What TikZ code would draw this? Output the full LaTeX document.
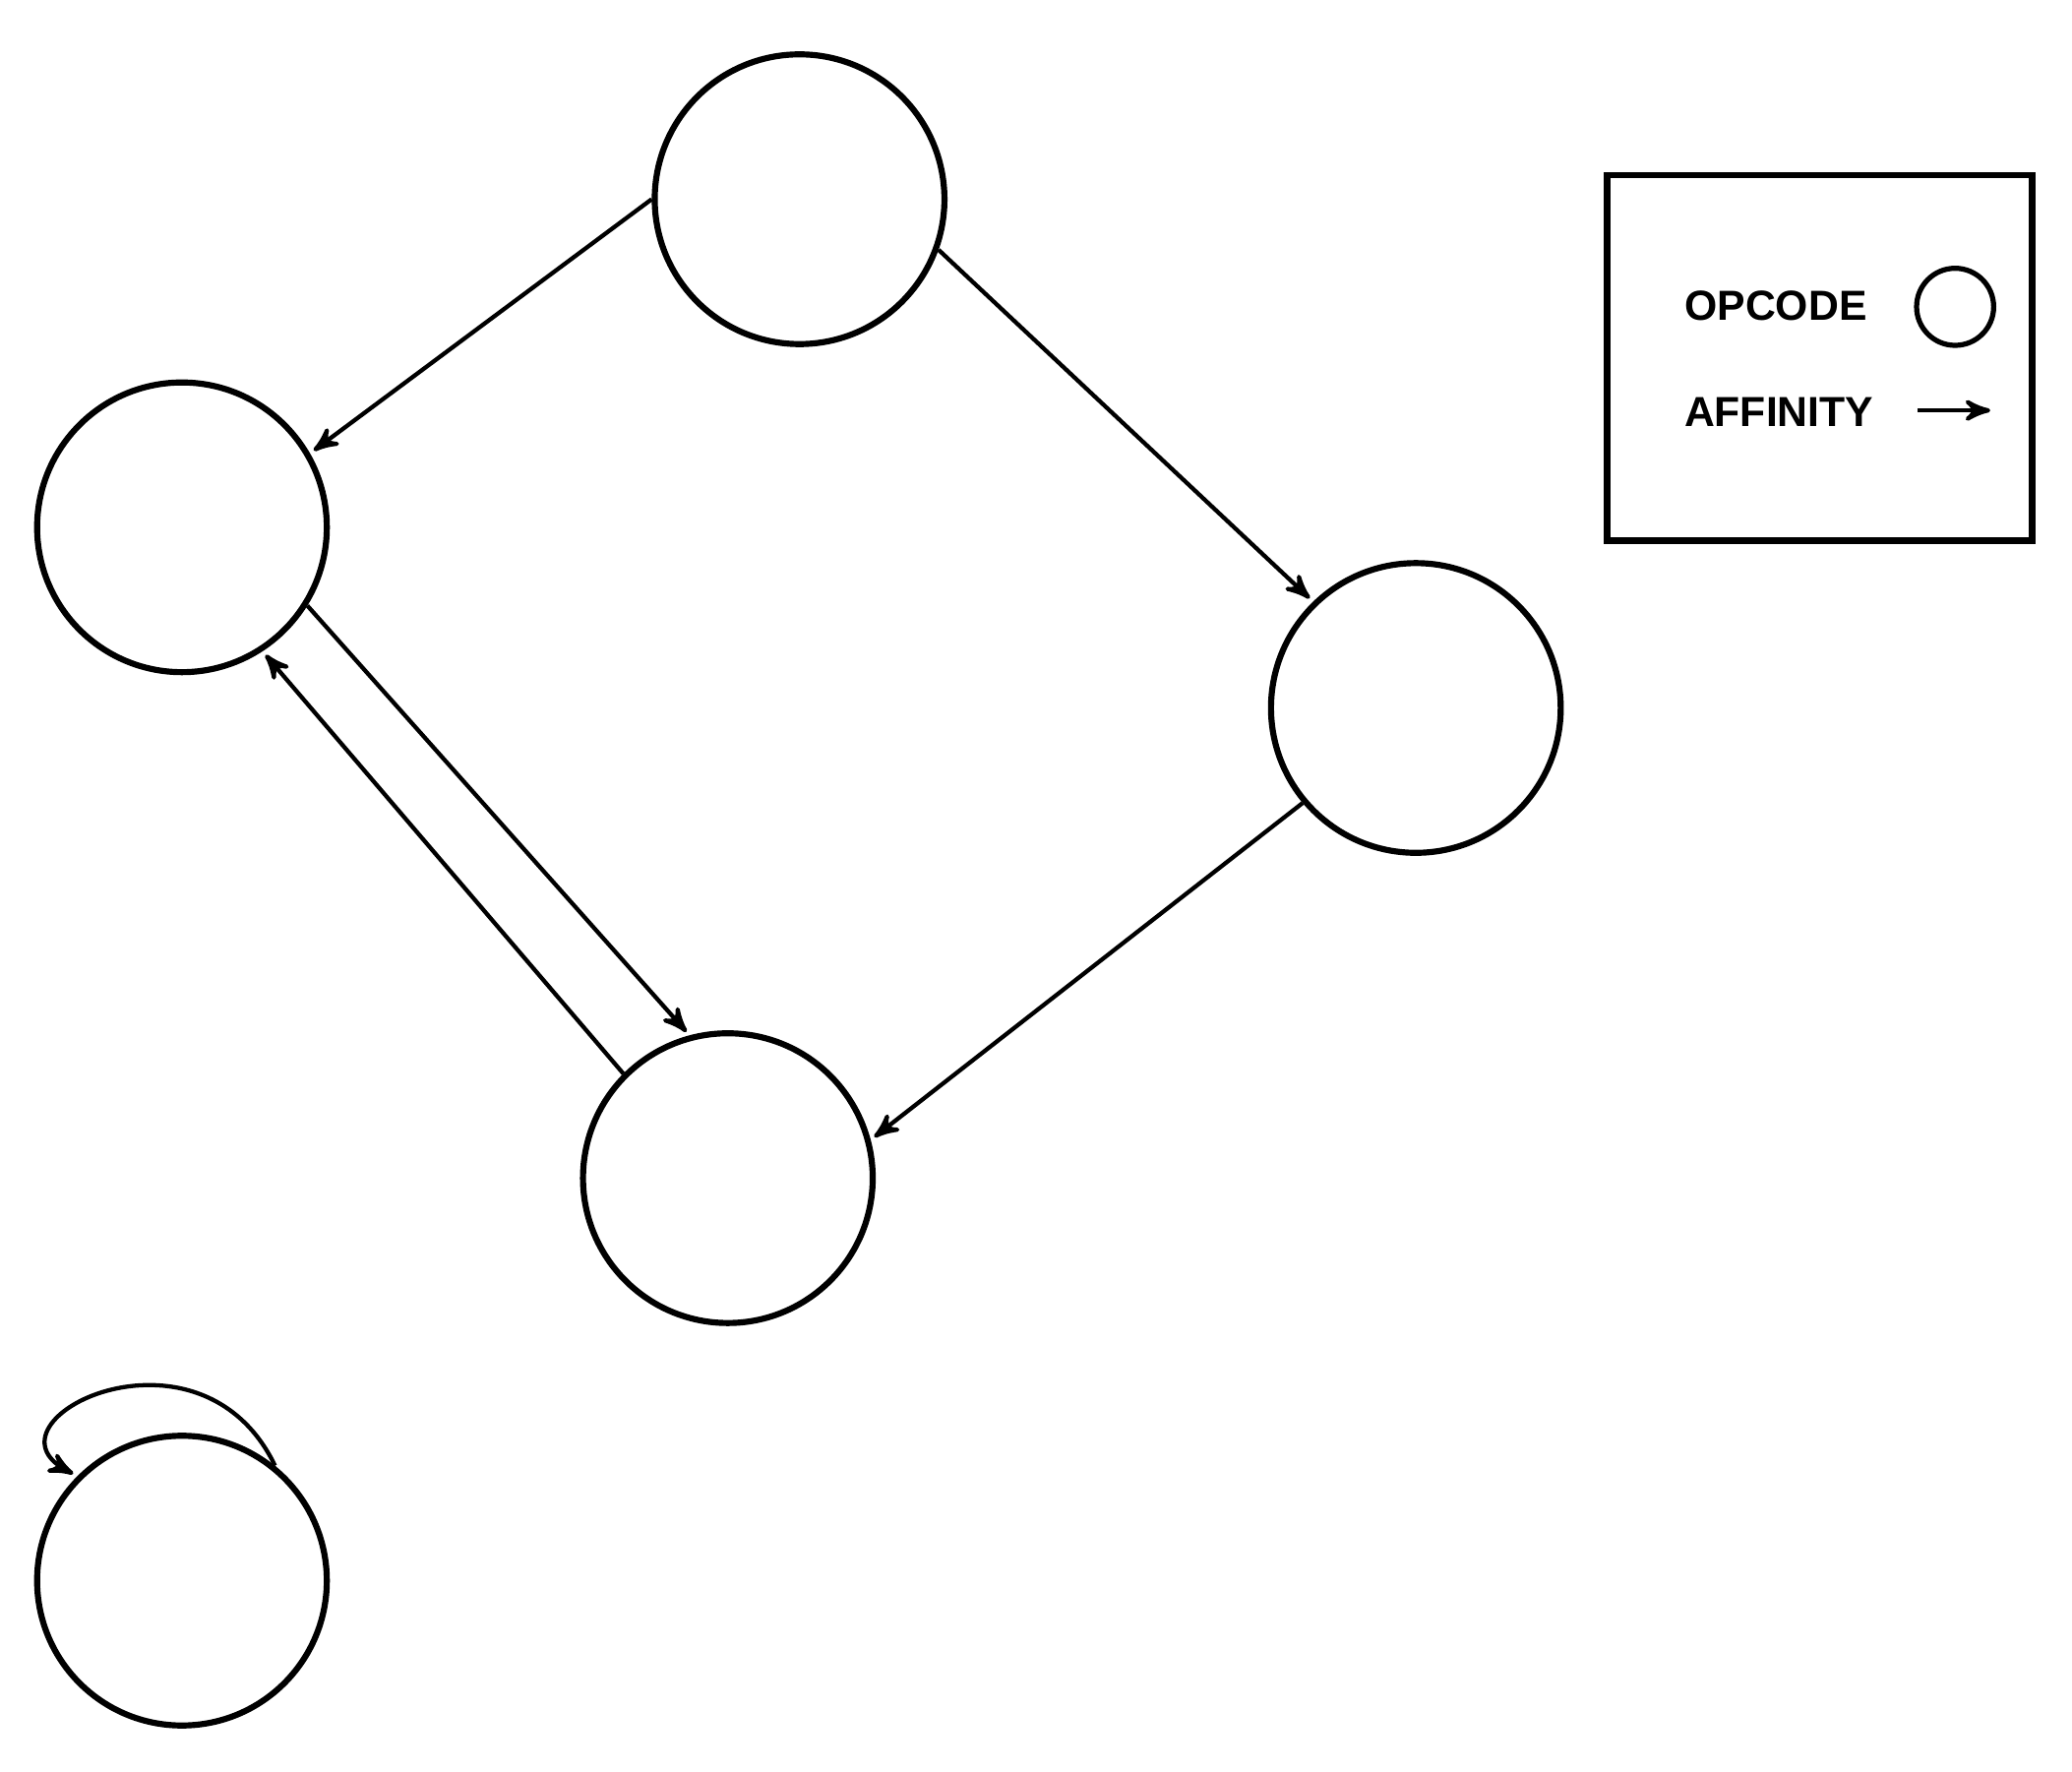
\documentclass[tikz,border=0pt]{standalone}
\usepackage{fontspec}
\setmainfont{Liberation Sans}
\usetikzlibrary{arrows}

\begin{document}
\begin{tikzpicture}[x=0.01cm,y=-0.01cm]
	\path [use as bounding box] (0,0) rectangle (1560,1334);
	\tikzstyle{op} = [circle, draw, line width=1.3pt, minimum size=2.18cm, inner sep=0pt]
	\tikzstyle{aff} = [-stealth', line width=0.9pt, shorten >=1pt]
	\node[op] (top) at (602,150) {};
	\node[op] (left) at (137,397) {};
	\node[op] (right) at (1066,533) {};
	\node[op] (bottom) at (548,887) {};
	\node[op] (lone) at (137,1190) {};
	\draw[aff] (top.180) -- (left.30);
	\draw[aff] (top.-20) -- (right.134);
	\draw[aff] (left.-32) -- (bottom.105);
	\draw[aff] (bottom.135) -- (left.-57);
	\draw[aff] (right.220) -- (bottom.15);
	\draw[aff] (lone.51) .. controls (150,985) and (-20,1070) .. (lone.135);
	% legend
	\draw[line width=1.3pt] (1210,132) rectangle (1530,407);
	\node[font=\bfseries\fontsize{9}{10}\selectfont, anchor=east] (opc) at (1418,230) {OPCODE};
	\node[circle, draw, line width=1.1pt, minimum size=0.58cm, inner sep=0pt] (leg) at (1472,231) {};
	\node[font=\bfseries\fontsize{9}{10}\selectfont, anchor=east] (affl) at (1423,310) {AFFINITY};
	\coordinate (a1) at (1444,309);
	\coordinate (a2) at (1502,309);
	\draw[aff] (a1) -- (a2);
\end{tikzpicture}
\end{document}
